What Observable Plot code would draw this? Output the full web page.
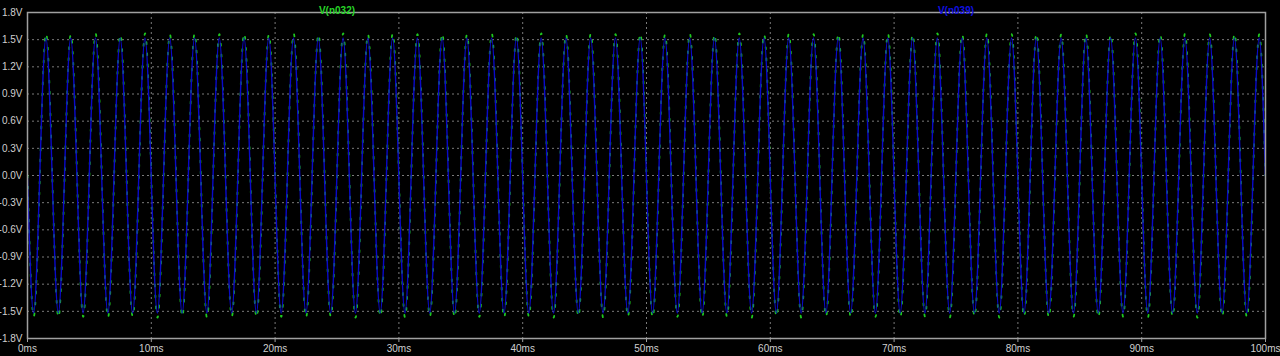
<!DOCTYPE html>
<html><head><meta charset="utf-8">
<script src="https://cdn.jsdelivr.net/npm/d3@7"></script>
<script src="https://cdn.jsdelivr.net/npm/@observablehq/plot@0.6"></script>
<style>html,body{margin:0;padding:0;background:#000;overflow:hidden;}</style>
</head><body><div id="chart"></div>
<script>
// Times (ms) of each trough / peak, alternating (trough first)
const extremaMs = [
  0.5,1.5,2.5,3.5,4.5,5.5,6.5,7.5,8.5,9.5,
  10.5,11.5,12.5,13.5,14.5,15.5,16.5,17.5,18.5,19.5,
  20.5,21.5,22.5,23.5,24.5,25.5,26.5,27.5,28.5,29.5,
  30.5,31.5,32.5,33.5,34.5,35.5,36.5,37.5,38.5,39.5,
  40.5,41.5,42.5,43.5,44.5,45.5,46.5,47.5,48.5,49.5,
  50.5,51.5,52.5,53.5,54.5,55.5,56.5,57.5,58.5,59.5,
  60.5,61.5,62.5,63.5,64.5,65.5,66.5,67.5,68.5,69.5,
  70.5,71.5,72.5,73.5,74.5,75.5,76.5,77.5,78.5,79.5,
  80.5,81.5,82.5,83.5,84.5,85.5,86.5,87.5,88.5,89.5,
  90.5,91.5,92.5,93.5,94.5,95.5,96.5,97.5,98.5,99.5
];
// Zero crossings (ms)
const zeroMs = [
  0,1,2,3,4,5,6,7,8,9,10,11,12,13,14,15,16,17,18,19,
  20,21,22,23,24,25,26,27,28,29,30,31,32,33,34,35,36,37,38,39,
  40,41,42,43,44,45,46,47,48,49,50,51,52,53,54,55,56,57,58,59,
  60,61,62,63,64,65,66,67,68,69,70,71,72,73,74,75,76,77,78,79,
  80,81,82,83,84,85,86,87,88,89,90,91,92,93,94,95,96,97,98,99,100
];
// V(n032) extreme values (V)
const greenExtremaV = [
  -1.56,1.57,-1.57,1.56,-1.56,1.57,-1.57,1.56,-1.56,1.57,
  -1.57,1.56,-1.56,1.57,-1.57,1.56,-1.56,1.57,-1.57,1.56,
  -1.56,1.57,-1.57,1.56,-1.56,1.57,-1.57,1.56,-1.56,1.57,
  -1.57,1.56,-1.56,1.57,-1.57,1.56,-1.56,1.57,-1.57,1.56,
  -1.56,1.57,-1.57,1.56,-1.56,1.57,-1.57,1.56,-1.56,1.57,
  -1.57,1.56,-1.56,1.57,-1.57,1.56,-1.56,1.57,-1.57,1.56,
  -1.56,1.57,-1.57,1.56,-1.56,1.57,-1.57,1.56,-1.56,1.57,
  -1.57,1.56,-1.56,1.57,-1.57,1.56,-1.56,1.57,-1.57,1.56,
  -1.56,1.57,-1.57,1.56,-1.56,1.57,-1.57,1.56,-1.56,1.57,
  -1.57,1.56,-1.56,1.57,-1.57,1.56,-1.56,1.57,-1.57,1.56
];
// V(n039) extreme values (V)
const blueExtremaV = [
  -1.52,1.52,-1.52,1.52,-1.52,1.52,-1.52,1.52,-1.52,1.52,
  -1.52,1.52,-1.52,1.52,-1.52,1.52,-1.52,1.52,-1.52,1.52,
  -1.52,1.52,-1.52,1.52,-1.52,1.52,-1.52,1.52,-1.52,1.52,
  -1.52,1.52,-1.52,1.52,-1.52,1.52,-1.52,1.52,-1.52,1.52,
  -1.52,1.52,-1.52,1.52,-1.52,1.52,-1.52,1.52,-1.52,1.52,
  -1.52,1.52,-1.52,1.52,-1.52,1.52,-1.52,1.52,-1.52,1.52,
  -1.52,1.52,-1.52,1.52,-1.52,1.52,-1.52,1.52,-1.52,1.52,
  -1.52,1.52,-1.52,1.52,-1.52,1.52,-1.52,1.52,-1.52,1.52,
  -1.52,1.52,-1.52,1.52,-1.52,1.52,-1.52,1.52,-1.52,1.52,
  -1.52,1.52,-1.52,1.52,-1.52,1.52,-1.52,1.52,-1.52,1.52
];
const blueShiftMs = -0.01; // V(n039) slightly leads V(n032)

const xTicks = [0,10,20,30,40,50,60,70,80,90,100];
const yTicks = [-1.8,-1.5,-1.2,-0.9,-0.6,-0.3,0,0.3,0.6,0.9,1.2,1.5,1.8];
const seriesNames = ["V(n032)","V(n039)"];
const seriesColors = ["#1fc81f","#0a0ac8"];
const labelColors = ["#28d428","#1010e0"];
const labelMs = [25,75];

function build(vals, shift){
  const rows = zeroMs.map(t => ({t: t + shift, v: 0}))
    .concat(extremaMs.map((t,i) => ({t: t + shift, v: vals[i]})));
  rows.sort((a,b) => a.t - b.t);
  return rows;
}
const green = build(greenExtremaV, 0);
const blue = build(blueExtremaV, blueShiftMs);

const grid = {stroke:"#7a7a7a", strokeOpacity:1, strokeWidth:1, strokeDasharray:"2,3"};
const chart = Plot.plot({
  width:1280, height:356,
  marginLeft:27, marginRight:15, marginTop:12, marginBottom:18,
  style:{background:"#000", color:"#cfcfcf", fontFamily:"'Liberation Sans', Arial, sans-serif", fontSize:"10px"},
  x:{domain:[0,100]},
  y:{domain:[-1.8,1.8]},
  marks:[
    Plot.gridX(xTicks.slice(1,-1), grid),
    Plot.gridY(yTicks.slice(1,-1), grid),
    Plot.axisX(xTicks, {tickFormat:d => d + "ms", tickSize:4, tickPadding:2, stroke:"#a0a0a0", fill:"#cfcfcf", label:null}),
    Plot.axisY(yTicks, {tickFormat:d => d.toFixed(1) + "V", tickSize:0, tickPadding:5, fill:"#cfcfcf", label:null}),
    Plot.line(green, {x:"t", y:"v", stroke:seriesColors[0], strokeWidth:1.8, strokeDasharray:"2,9", curve:"natural", clip:true}),
    Plot.line(blue, {x:"t", y:"v", stroke:seriesColors[1], strokeWidth:1.4, curve:"natural", clip:true}),
    Plot.frame({stroke:"#a0a0a0", strokeWidth:1.5}),
    Plot.text(seriesNames, {x:(d,i) => labelMs[i], text:d => d, fill:(d,i) => labelColors[i], frameAnchor:"top", dy:-6, fontWeight:"bold", fontSize:10})
  ]
});
document.getElementById("chart").appendChild(chart);
</script>
</body></html>
